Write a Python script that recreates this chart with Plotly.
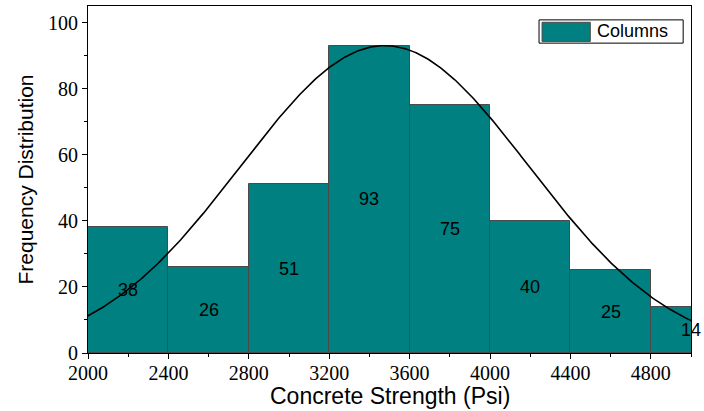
import numpy as np
import plotly.graph_objects as go

# Histogram of concrete strength (bin width 400 psi)
bin_starts = [2000, 2400, 2800, 3200, 3600, 4000, 4400, 4800]
bin_width = 400
counts = [38, 26, 51, 93, 75, 40, 25, 14]
x_ticks = [2000, 2400, 2800, 3200, 3600, 4000, 4400, 4800]
y_ticks = [0, 20, 40, 60, 80, 100]

teal = "#008080"
centers = np.array(bin_starts, dtype=float) + bin_width / 2
n = np.array(counts, dtype=float)

# Normal distribution curve from the binned data (mean / std), scaled to the peak bin
mu = float((centers * n).sum() / n.sum())
sigma = float(np.sqrt(((centers - mu) ** 2 * n).sum() / n.sum()))
peak = float(n.max())
xc = np.linspace(1900, 5100, 400)
yc = peak * np.exp(-((xc - mu) ** 2) / (2 * sigma ** 2))

sans = "Liberation Sans, Arial, sans-serif"

fig = go.Figure()
fig.add_trace(go.Bar(
    x=centers, y=counts, width=bin_width,
    marker=dict(color=teal, line=dict(color="#4a4a4a", width=1)),
    name="Columns", showlegend=False,
))
fig.add_trace(go.Scatter(
    x=xc, y=yc, mode="lines",
    line=dict(color="black", width=1.6),
    showlegend=False, hoverinfo="skip",
))

# Count labels in the middle of each column
for cx, c in zip(centers, counts):
    fig.add_annotation(
        x=cx, y=c / 2, text=str(c), showarrow=False,
        font=dict(family=sans, size=18, color="black"),
    )

# Legend box
fig.add_shape(type="rect", xref="paper", yref="paper",
              x0=0.748, x1=0.987, y0=0.893, y1=0.960,
              line=dict(color="black", width=1), fillcolor="white")
fig.add_shape(type="rect", xref="paper", yref="paper",
              x0=0.753, x1=0.833, y0=0.898, y1=0.953,
              line=dict(color="#4a4a4a", width=1), fillcolor=teal)
fig.add_annotation(xref="paper", yref="paper", x=0.840, y=0.927,
                   xanchor="left", yanchor="middle", showarrow=False,
                   text="Columns", font=dict(family=sans, size=18, color="black"))

# X axis title
fig.add_annotation(xref="paper", yref="paper", x=0.5, y=-0.125,
                   xanchor="center", yanchor="middle", showarrow=False,
                   text="Concrete Strength (Psi)", font=dict(family=sans, size=23, color="black"))

tick_font = dict(family="Liberation Serif, Times New Roman, serif", size=20, color="black")

fig.update_layout(
    width=704, height=411,
    margin=dict(l=88, r=13, t=6, b=58),
    paper_bgcolor="white", plot_bgcolor="white",
    bargap=0,
    xaxis=dict(
        range=[2000, 5000], tickvals=x_ticks, ticktext=[str(v) for v in x_ticks],
        ticks="outside", ticklen=5, tickwidth=1, tickcolor="black",
        minor=dict(dtick=200, tick0=2000, ticks="outside", ticklen=3, tickcolor="black", showgrid=False),
        showline=True, linecolor="black", linewidth=1, mirror=True,
        showgrid=False, zeroline=False, tickfont=tick_font, automargin=False,
        ticklabelstandoff=-3,
    ),
    yaxis=dict(
        range=[0, 105], tickvals=y_ticks,
        ticks="outside", ticklen=5, tickwidth=1, tickcolor="black",
        minor=dict(dtick=10, tick0=0, ticks="outside", ticklen=3, tickcolor="black", showgrid=False),
        showline=True, linecolor="black", linewidth=1, mirror=True,
        showgrid=False, zeroline=False, tickfont=tick_font, automargin=False,
        title=dict(text="Frequency Distribution", standoff=8,
                   font=dict(family=sans, size=21, color="black")),
    ),
)

fig.write_html("out.html")
